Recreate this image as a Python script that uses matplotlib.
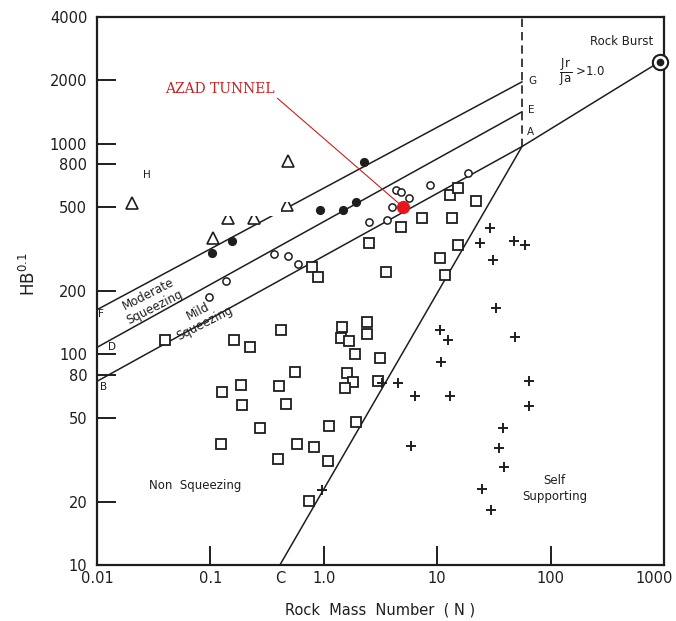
import matplotlib
matplotlib.use("Agg")
import matplotlib.pyplot as plt
from matplotlib.patches import Rectangle
from matplotlib.transforms import ScaledTranslation

# Goel-type squeezing chart: HB^0.1 versus rock mass number N

filled_x = [0.103, 0.155, 0.92, 1.48, 1.91, 2.25]
filled_y = [303, 344, 485, 485, 531, 822]

open_x = [0.0976, 0.137, 0.366, 0.479, 0.594, 2.49, 3.61, 4.0, 4.34, 4.84, 5.69, 8.59, 18.7]
open_y = [187, 224, 300, 294, 269, 424, 435, 502, 604, 593, 550, 640, 723]

tri_x = [0.0205, 0.106, 0.485, 0.143, 0.242, 0.472]
tri_y = [524, 356, 830, 442, 442, 514]

square_x = [0.416, 0.162, 0.222, 1.45, 2.41, 2.41, 1.43, 1.68, 1.90, 3.11,
            0.552, 0.187, 0.402, 0.127, 1.60, 1.80, 1.53, 3.01, 0.191, 0.460,
            0.273, 1.11, 1.91, 0.123, 0.586, 0.817, 0.393, 1.08, 0.733, 0.0397,
            0.789, 0.891, 2.49, 3.54, 4.84, 7.35, 13.1, 15.2, 13.5, 22.0,
            15.2, 10.5, 11.6]
square_y = [131, 117, 108, 135, 143, 125, 119, 116, 100, 96.5,
            82.2, 71.8, 71.1, 66.2, 81.6, 74.3, 69.2, 74.5, 57.8, 58.4,
            44.5, 45.9, 47.6, 37.7, 37.7, 36.3, 31.7, 31.1, 20.1, 117,
            261, 232, 338, 245, 404, 443, 573, 617, 443, 535,
            332, 288, 239]

plus_x = [29.4, 24.0, 47.2, 59.0, 30.8, 33.2, 48.9, 10.5, 12.4, 10.7, 64.9, 6.43,
          12.9, 64.0, 4.49, 3.28, 38.0, 5.93, 34.8, 38.5, 24.8, 29.6, 0.955]
plus_y = [397, 338, 347, 331, 282, 166, 121, 130, 117, 92.0, 74.5, 63.2,
          63.2, 56.7, 73.4, 73.4, 44.9, 36.6, 36.0, 29.2, 22.9, 18.2, 22.7]

azad_x, azad_y = 4.97, 502
burst_x, burst_y = 913, 2449

# boundary lines
fg_x, fg_y = [0.01, 55.9], [163, 1968]
de_x, de_y = [0.01, 55.9], [108, 1419]
ba_x, ba_y = [0.01, 55.9, 913], [74.5, 970, 2449]
ca_x, ca_y = [0.41, 55.9], [10, 970]
dash_x, dash_y = [55.9, 55.9], [970, 4000]

x_major = [0.1, 1, 10, 100]
x_major_labels = ["0.1", "1.0", "10", "100"]
x_corner = [0.01, 0.41, 1000]
x_corner_labels = ["0.01", "C", "1000"]
y_major = [20, 50, 80, 100, 200, 500, 800, 1000, 2000]
y_corner = [10, 4000]

INK = "#1e1e1e"
RED = "#cc1f1f"


def main() -> None:
    fig = plt.figure(figsize=(6.76, 6.21), dpi=100)
    ax = fig.add_axes([97 / 676, 56 / 621, 567 / 676, 548 / 621])
    ax.set_xscale("log")
    ax.set_yscale("log")
    ax.set_xlim(0.01, 1000)
    ax.set_ylim(10, 4000)

    for s in ax.spines.values():
        s.set_linewidth(1.6)
        s.set_color(INK)

    lw = 1.1
    ax.plot(fg_x, fg_y, color=INK, lw=lw, zorder=2)
    ax.plot(de_x, de_y, color=INK, lw=lw, zorder=2)
    ax.plot(ba_x, ba_y, color=INK, lw=lw, zorder=2)
    ax.plot(ca_x, ca_y, color=INK, lw=lw, zorder=2)
    ax.plot(dash_x, dash_y, color=INK, lw=1.2, ls=(0, (5, 3)), zorder=2)

    ax.plot(square_x, square_y, ls="none", marker="s", ms=6.6, mfc="white",
            mec=INK, mew=1.3, zorder=3)
    ax.plot(open_x, open_y, ls="none", marker="o", ms=5.2, mfc="white",
            mec=INK, mew=1.1, zorder=3)
    ax.plot(filled_x, filled_y, ls="none", marker="o", ms=5.6, mfc=INK,
            mec=INK, zorder=3)
    ax.plot(tri_x, tri_y, ls="none", marker="^", ms=8, mfc="white",
            mec=INK, mew=1.2, zorder=3)
    ax.plot(plus_x, plus_y, ls="none", marker="+", ms=6.5, mec=INK,
            mew=1.4, zorder=3)

    # erased patch of the scanned original that clips a few triangles
    ax.add_patch(Rectangle((0.114, 456), 0.418 - 0.114, 705 - 456,
                           fc="white", ec="none", zorder=4))
    ax.add_patch(Rectangle((0.418, 531), 0.555 - 0.418, 705 - 531,
                           fc="white", ec="none", zorder=4))

    ax.plot([burst_x], [burst_y], marker="o", ms=11, mfc="white", mec=INK,
            mew=1.5, zorder=5, clip_on=False)
    ax.plot([burst_x], [burst_y], marker="o", ms=4.5, mfc=INK, mec=INK,
            zorder=6, clip_on=False)

    ax.plot([azad_x], [azad_y], marker="o", ms=8.5, mfc="#e8161b",
            mec="#e8161b", zorder=6)
    ax.annotate("AZAD TUNNEL", xy=(azad_x, azad_y), xytext=(0.121, 1824),
                ha="center", va="center", color=RED, fontsize=10,
                family="DejaVu Serif",
                arrowprops=dict(arrowstyle="-", color=RED, lw=0.8,
                                relpos=(1, 0), shrinkA=0, shrinkB=0),
                zorder=6)

    # ticks
    ax.set_xticks(x_major, x_major_labels)
    ax.set_xticks(x_corner, x_corner_labels, minor=True)
    ax.set_yticks(y_major, [str(v) for v in y_major])
    ax.set_yticks(y_corner, [str(v) for v in y_corner], minor=True)
    ax.tick_params(which="major", direction="in", length=14, width=1.4,
                   color=INK, labelsize=10.5, labelcolor=INK)
    ax.tick_params(which="minor", length=0, labelsize=10.5, labelcolor=INK)
    ax.tick_params(axis="x", which="both", pad=4)
    ax.tick_params(axis="y", which="both", pad=7)

    # keep the corner label 1000 inside the figure
    for lab in ax.get_xticklabels(minor=True):
        if lab.get_text() == "1000":
            lab.set_ha("right")
            lab.set_transform(lab.get_transform()
                              + ScaledTranslation(9 / 100, 0, fig.dpi_scale_trans))

    ax.set_xlabel("Rock  Mass  Number  ( N )", fontsize=10.5, color=INK,
                  labelpad=12)
    ax.set_ylabel(r"HB$^{0.1}$", fontsize=12, color=INK)
    ax.yaxis.set_label_coords(-0.103, 0.53)

    # region labels
    ax.text(0.0305, 180, "Moderate\nSqueezing", rotation=27, fontsize=8.5,
            ha="center", va="center", color=INK, linespacing=1.1,
            rotation_mode="anchor")
    ax.text(0.084, 150, "Mild\nSqueezing", rotation=27, fontsize=8.5,
            ha="center", va="center", color=INK, linespacing=1.1,
            rotation_mode="anchor")
    ax.text(0.073, 23.9, "Non  Squeezing", fontsize=8.5, ha="center",
            va="center", color=INK)
    ax.text(108, 23.2, "Self\nSupporting", fontsize=8.5, ha="center",
            va="center", color=INK, linespacing=1.3)
    ax.text(800, 3076, "Rock Burst", fontsize=8.5, ha="right", va="center",
            color=INK)
    ax.text(190, 2200, r"$\dfrac{\mathrm{Jr}}{\mathrm{Ja}}$ >1.0", fontsize=8.5,
            ha="center", va="center", color=INK)

    # point letters
    for lab, x, y in [("F", 0.0108, 156), ("D", 0.0136, 108), ("B", 0.0115, 69.8),
                      ("H", 0.0276, 713), ("G", 69.4, 1991), ("E", 68.0, 1449),
                      ("A", 66.6, 1140)]:
        ax.text(x, y, lab, fontsize=7.5, ha="center", va="center", color=INK)

    fig.savefig("out.png", dpi=100)


if __name__ == "__main__":
    main()
